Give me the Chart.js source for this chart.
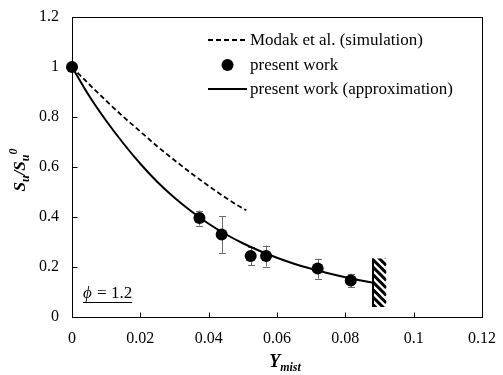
<!DOCTYPE html>
<html>
<head>
<meta charset="utf-8">
<script src="https://cdn.jsdelivr.net/npm/chart.js@4/dist/chart.umd.min.js"></script>
<style>
  html, body { margin: 0; padding: 0; background: #ffffff; }
  #wrap { width: 503px; height: 375px; }
</style>
</head>
<body>
<div id="wrap"><canvas id="c" width="503" height="375"></canvas></div>
<script>
// Axis ticks
const xTickValues = [0, 0.02, 0.04, 0.06, 0.08, 0.1, 0.12];
const xTickLabels = ['0', '0.02', '0.04', '0.06', '0.08', '0.1', '0.12'];
const yTickValues = [0, 0.2, 0.4, 0.6, 0.8, 1, 1.2];
const yTickLabels = ['0', '0.2', '0.4', '0.6', '0.8', '1', '1.2'];

// Measured normalized burning velocity with error bars
const measuredX   = [0, 0.0373, 0.0438, 0.0523, 0.0568, 0.0719, 0.0816];
const measuredY   = [1.0, 0.396, 0.330, 0.244, 0.244, 0.194, 0.146];
const measuredErr = [0, 0.030, 0.073, 0.037, 0.042, 0.040, 0.027];

// Approximation curve of the present work
const fitX = [0, 0.005, 0.01, 0.015, 0.02, 0.025, 0.03, 0.035, 0.04, 0.045,
              0.05, 0.055, 0.06, 0.065, 0.07, 0.075, 0.08, 0.085, 0.088];
const fitY = [1.0, 0.885, 0.785, 0.695, 0.613, 0.540, 0.477, 0.422, 0.373, 0.331,
              0.295, 0.264, 0.237, 0.213, 0.193, 0.175, 0.159, 0.145, 0.137];

// Simulation by Modak et al.
const modakX = [0, 0.005, 0.01, 0.015, 0.02, 0.025, 0.03, 0.035, 0.04, 0.045, 0.05, 0.051];
const modakY = [1.0, 0.931, 0.865, 0.801, 0.742, 0.682, 0.627, 0.574, 0.524, 0.477, 0.434, 0.427];

// Flammability limit band (hatched)
const limitX = [0.0878, 0.092];
const limitY = [0.04, 0.234];

const seriesLabels = ['Modak et al. (simulation)', 'present work', 'present work (approximation)'];
const phiLabel = '1.2';

const FONT = '"Liberation Serif", "Times New Roman", serif';

// target plot rectangle inside the canvas
const AREA = { left: 72, top: 17, right: 482, bottom: 317 };

const toPts = (xs, ys) => xs.map((x, i) => ({ x: x, y: ys[i] }));

const decorPlugin = {
  id: 'decor',
  beforeDatasetsDraw(chart) {
    const { ctx, scales: { x, y } } = chart;
    // error bars
    ctx.save();
    ctx.strokeStyle = '#6b6b6b';
    ctx.lineWidth = 1;
    measuredX.forEach((mx, i) => {
      const e = measuredErr[i];
      if (!e) return;
      const px = Math.round(x.getPixelForValue(mx)) + 0.5;
      const top = y.getPixelForValue(measuredY[i] + e);
      const bot = y.getPixelForValue(measuredY[i] - e);
      ctx.beginPath();
      ctx.moveTo(px, top); ctx.lineTo(px, bot);
      ctx.moveTo(px - 3.5, Math.round(top) + 0.5); ctx.lineTo(px + 3.5, Math.round(top) + 0.5);
      ctx.moveTo(px - 3.5, Math.round(bot) + 0.5); ctx.lineTo(px + 3.5, Math.round(bot) + 0.5);
      ctx.stroke();
    });
    ctx.restore();

    // hatched limit band
    const hx0 = x.getPixelForValue(limitX[0]);
    const hx1 = x.getPixelForValue(limitX[1]);
    const hy0 = y.getPixelForValue(limitY[1]);
    const hy1 = y.getPixelForValue(limitY[0]);
    ctx.save();
    ctx.beginPath();
    ctx.rect(hx0, hy0, hx1 - hx0, hy1 - hy0);
    ctx.clip();
    ctx.strokeStyle = '#000';
    ctx.lineWidth = 3;
    const w = hx1 - hx0;
    for (let yy = hy0 - w - 8; yy < hy1 + 8; yy += 7.5) {
      ctx.beginPath();
      ctx.moveTo(hx0, yy);
      ctx.lineTo(hx1, yy + w);
      ctx.stroke();
    }
    ctx.restore();
    ctx.save();
    ctx.strokeStyle = '#000';
    ctx.lineWidth = 2;
    ctx.beginPath();
    ctx.moveTo(hx0 + 1, hy0);
    ctx.lineTo(hx0 + 1, hy1);
    ctx.stroke();
    ctx.restore();
  },
  afterDraw(chart) {
    const { ctx, chartArea: a, scales: { x, y } } = chart;
    ctx.save();
    // frame
    ctx.strokeStyle = '#000';
    ctx.lineWidth = 1;
    const L = Math.round(a.left) + 0.5, R = Math.round(a.right) + 0.5;
    const T = Math.round(a.top) + 0.5, B = Math.round(a.bottom) + 0.5;
    ctx.strokeRect(L, T, R - L, B - T);
    // inward ticks
    ctx.beginPath();
    xTickValues.forEach(v => {
      const px = Math.round(x.getPixelForValue(v)) + 0.5;
      ctx.moveTo(px, B); ctx.lineTo(px, B - 5);
    });
    yTickValues.forEach(v => {
      const py = Math.round(y.getPixelForValue(v)) + 0.5;
      ctx.moveTo(L, py); ctx.lineTo(L + 5, py);
    });
    ctx.stroke();

    // legend
    const lx0 = 208, lx1 = 247, tx = 250;
    const rows = [40, 65, 89];
    ctx.font = '17px ' + FONT;
    ctx.fillStyle = '#000';
    ctx.textBaseline = 'middle';
    ctx.textAlign = 'left';
    ctx.lineWidth = 1.8;
    ctx.setLineDash([5, 3]);
    ctx.beginPath(); ctx.moveTo(lx0, rows[0]); ctx.lineTo(lx1, rows[0]); ctx.stroke();
    ctx.setLineDash([]);
    ctx.beginPath(); ctx.arc(227.5, rows[1], 6, 0, Math.PI * 2); ctx.fill();
    ctx.lineWidth = 2;
    ctx.beginPath(); ctx.moveTo(lx0, rows[2]); ctx.lineTo(lx1, rows[2]); ctx.stroke();
    seriesLabels.forEach((t, i) => ctx.fillText(t, tx, rows[i] + 1));

    // equivalence ratio note
    ctx.textBaseline = 'alphabetic';
    let px = 83;
    const pb = 298;
    ctx.font = 'italic 17px ' + FONT;
    ctx.fillText('\u03D5', px, pb);
    px += ctx.measureText('\u03D5').width + 1;
    ctx.font = '17px ' + FONT;
    const rest = ' = ' + phiLabel;
    ctx.fillText(rest, px, pb);
    px += ctx.measureText(rest).width;
    ctx.lineWidth = 1;
    ctx.beginPath(); ctx.moveTo(83, 302.5); ctx.lineTo(px, 302.5); ctx.stroke();

    // axis titles with sub/superscripts
    const drawRuns = (runs, cx, cy) => {
      let total = 0;
      runs.forEach(r => { ctx.font = r.f; r.w = ctx.measureText(r.t).width; total += r.w; });
      let cur = cx - total / 2;
      runs.forEach(r => { ctx.font = r.f; ctx.fillText(r.t, cur, cy + (r.dy || 0)); cur += r.w; });
    };
    const big = 'bold italic 17px ' + FONT;
    const small = 'bold italic 12px ' + FONT;
    ctx.save();
    ctx.translate(25, 170);
    ctx.rotate(-Math.PI / 2);
    drawRuns([
      { t: 'S', f: big }, { t: 'u', f: small, dy: 4 },
      { t: '/', f: big }, { t: 'S', f: big }, { t: 'u', f: small, dy: 4 },
      { t: '0', f: small, dy: -8 }
    ], 0, 0);
    ctx.restore();
    drawRuns([
      { t: 'Y', f: 'bold italic 18px ' + FONT },
      { t: 'mist', f: 'bold italic 12px ' + FONT, dy: 4 }
    ], 285, 367);
    ctx.restore();
  }
};

// pin the plot rectangle regardless of label overhang
const pinAreaPlugin = {
  id: 'pinArea',
  afterLayout(chart) {
    const a = chart.chartArea;
    a.left = AREA.left; a.top = AREA.top; a.right = AREA.right; a.bottom = AREA.bottom;
    a.width = AREA.right - AREA.left; a.height = AREA.bottom - AREA.top;
    const { x, y } = chart.scales;
    x.left = AREA.left; x.right = AREA.right; x.width = a.width;
    x.top = AREA.bottom; x.bottom = 375; x.height = 375 - AREA.bottom;
    y.top = AREA.top; y.bottom = AREA.bottom; y.height = a.height;
    y.left = 0; y.right = AREA.left; y.width = AREA.left;
    x.configure(); y.configure();
    chart.getSortedVisibleDatasetMetas().forEach(m => {
      m.controller.updateElements(m.data, 0, m.data.length, 'none');
    });
  }
};

new Chart(document.getElementById('c'), {
  type: 'scatter',
  data: {
    datasets: [
      {
        label: seriesLabels[1],
        data: toPts(measuredX, measuredY),
        pointRadius: 6,
        pointBackgroundColor: '#000',
        pointBorderColor: '#000',
        pointBorderWidth: 0,
        showLine: false,
        clip: false
      },
      {
        label: seriesLabels[2],
        data: toPts(fitX, fitY),
        showLine: true,
        borderColor: '#000',
        borderWidth: 2,
        pointRadius: 0,
        cubicInterpolationMode: 'monotone',
        clip: false
      },
      {
        label: seriesLabels[0],
        data: toPts(modakX, modakY),
        showLine: true,
        borderColor: '#000',
        borderWidth: 1.8,
        borderDash: [5, 3],
        pointRadius: 0,
        cubicInterpolationMode: 'monotone',
        clip: false
      }
    ]
  },
  options: {
    responsive: false,
    animation: false,
    events: [],
    layout: { padding: { left: 0, top: 17, right: 21, bottom: 0 } },
    plugins: { legend: { display: false }, tooltip: { enabled: false } },
    scales: {
      x: {
        type: 'linear',
        min: 0, max: 0.12,
        afterBuildTicks: s => { s.ticks = xTickValues.map(v => ({ value: v })); },
        afterFit: s => { s.height = 58; },
        grid: { display: false, drawTicks: false },
        border: { display: false },
        ticks: {
          callback: (v, i) => xTickLabels[i],
          color: '#000',
          font: { family: FONT, size: 16 },
          padding: 12,
          maxRotation: 0,
          autoSkip: false
        }
      },
      y: {
        type: 'linear',
        min: 0, max: 1.2,
        afterBuildTicks: s => { s.ticks = yTickValues.map(v => ({ value: v })); },
        afterFit: s => { s.width = 72; },
        grid: { display: false, drawTicks: false },
        border: { display: false },
        ticks: {
          callback: (v, i) => yTickLabels[i],
          color: '#000',
          font: { family: FONT, size: 16 },
          padding: 13
        }
      }
    }
  },
  plugins: [pinAreaPlugin, decorPlugin]
});
</script>
</body>
</html>
